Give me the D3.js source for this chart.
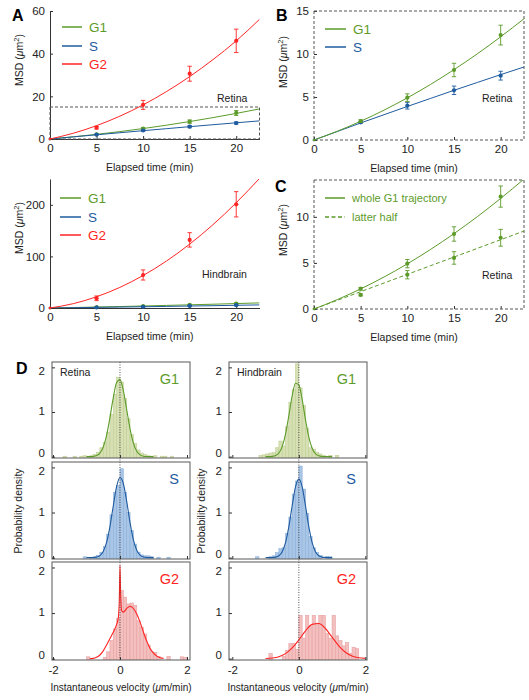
<!DOCTYPE html>
<html><head><meta charset="utf-8">
<script src="https://cdn.jsdelivr.net/npm/d3@7"></script>
<style>body{margin:0;background:#fff} svg{display:block} text{font-family:"Liberation Sans",Arial,Helvetica,sans-serif}</style>
</head><body><svg id="c" width="529" height="700"></svg>
<script>
// ---------- MSD data ----------
const msdTime = [0, 5, 10, 15, 20];
const fitTime = [0, 2.5, 5, 7.5, 10, 12.5, 15, 17.5, 20, 22.5];
const msdTicksX = [0, 5, 10, 15, 20];

const retinaG1 = [0, 2.2, 4.92, 8.14, 12.2];
const retinaG1Err = [0, 0.15, 0.45, 0.78, 1.15];
const retinaS = [0, 2.05, 3.99, 5.78, 7.48];
const retinaSErr = [0, 0.1, 0.39, 0.49, 0.51];
const retinaG2 = [0, 5.3, 16.0, 30.6, 46.0];
const retinaG2Err = [0, 0.6, 2.1, 3.5, 5.5];
const retinaG1Fit = [0, 1.02, 2.18, 3.47, 4.9, 6.47, 8.18, 10.02, 12.0, 14.1];
const retinaSFit = [0, 0.99, 1.98, 2.94, 3.9, 4.84, 5.78, 6.69, 7.6, 8.49];
const retinaG2Fit = [0, 2.7, 6.25, 10.7, 16, 22.2, 29.25, 37.2, 46, 56.1];

const latterHalf = [0, 1.53, 3.72, 5.54, 7.73];
const latterHalfErr = [0, 0.1, 0.45, 0.68, 0.91];
const latterHalfFit = [0, 0.94, 1.88, 2.82, 3.76, 4.7, 5.64, 6.58, 7.52, 8.46];

const hindG1 = [0, 1.5, 3.5, 6, 8.5];
const hindG1Err = [0, 0.4, 0.8, 1.2, 1.6];
const hindS = [0, 1, 2.2, 4, 5.5];
const hindSErr = [0, 0.3, 0.5, 0.7, 0.9];
const hindG2 = [0, 18.8, 64, 132, 201];
const hindG2Err = [0, 4.5, 9.8, 14, 24.5];
const hindG1Fit = [0, 0.9, 1.85, 2.85, 3.9, 5.0, 6.15, 7.35, 8.6, 9.9];
const hindSFit = [0, 0.6, 1.2, 1.8, 2.45, 3.1, 3.8, 4.5, 5.25, 6.0];
const hindG2Fit = [0, 8.4, 21.8, 39.9, 63, 90.9, 123.8, 161.4, 204, 251];

// ---------- Histogram data (bins of 0.1 from -2.0) ----------
const binStart = -2.0, binWidth = 0.1;
const velTicks = [-2, 0, 2];
const densTicks = [0, 1, 2];
const retinaG1Hist = [0,0,0,0.01,0,0,0.01,0,0.01,0.02, 0.01,0.02,0.05,0.1,0.2,0.32,0.55,0.95,1.4,1.78, 1.67,1.3,0.85,0.5,0.3,0.15,0.08,0.05,0.02,0.01, 0.02,0,0.01,0.01,0,0.01,0,0,0,0];
const retinaSHist = [0,0,0,0,0,0,0,0,0,0.02, 0,0.01,0.02,0.05,0.12,0.25,0.52,0.95,1.45,1.6, 1.97,1.45,1.0,0.6,0.3,0.12,0.06,0.04,0.04,0.02, 0,0.01,0,0,0.01,0,0,0,0,0];
const retinaG2Hist = [0,0,0,0,0,0,0,0,0,0, 0.04,0,0,0,0,0.03,0.15,0.4,0.65,0.88, 1.5,1.35,1.2,1.22,1.17,0.83,0.69,0.54,0.3,0.15, 0.14,0.05,0,0,0.05,0,0,0,0.04,0.03];
const hindG1Hist = [0,0,0,0,0,0,0,0,0.03,0.04, 0.06,0.08,0.09,0.2,0.35,0.24,0.67,1.22,1.5,2.08, 1.54,1.15,0.64,0.2,0.17,0.1,0.06,0.03,0,0.03, 0,0.03,0,0,0,0,0,0,0,0];
const hindSHist = [0,0,0,0,0,0,0,0.02,0,0, 0,0.02,0.04,0.11,0.2,0.22,0.54,0.9,1.41,1.7, 2.03,1.52,0.98,0.47,0.22,0.11,0.05,0,0.03,0.02, 0,0,0,0,0,0,0,0,0,0];
const hindG2Hist = [0,0,0,0,0,0,0,0,0,0, 0,0.11,0,0,0,0.05,0.18,0.33,0.33,0.2, 0.95,0.45,0.95,0.7,0.95,0.78,0.95,0.95,0.55,0.45, 0.95,0.5,0.4,0.28,0.35,0.12,0.25,0.22,0,0];

// fitted density curves
const gridA = [-1.0,-0.9,-0.8,-0.7,-0.6,-0.5,-0.4,-0.3,-0.2,-0.1,0,0.1,0.2,0.3,0.4,0.5,0.6,0.7,0.8,0.9,1.0];
const retinaG1Curve = [0.0002,0.001,0.006,0.025,0.081,0.215,0.477,0.874,1.324,1.66,1.725,1.48,1.056,0.621,0.302,0.122,0.041,0.011,0.003,0.0005,0.0001];
const retinaSCurve = [0.0001,0.0005,0.0027,0.0122,0.045,0.136,0.338,0.689,1.151,1.579,1.778,1.643,1.246,0.776,0.396,0.166,0.057,0.016,0.0038,0.0007,0.0001];
const hindG1Curve = [0.0001,0.001,0.006,0.024,0.082,0.226,0.506,0.921,1.364,1.643,1.609,1.282,0.831,0.438,0.188,0.065,0.018,0.004,0.001,0.0001,0];
const hindSCurve = [0.0001,0.0004,0.0023,0.011,0.042,0.132,0.333,0.687,1.151,1.57,1.74,1.57,1.151,0.687,0.333,0.132,0.042,0.011,0.0023,0.0004,0.0001];
const retinaG2CurveX = [-0.9,-0.8,-0.7,-0.6,-0.5,-0.4,-0.3,-0.2,-0.1,-0.05,-0.02,0,0.02,0.05,0.1,0.2,0.3,0.4,0.5,0.6,0.7,0.8,0.9,1.0,1.1,1.2,1.3];
const retinaG2Curve = [0,0.005,0.03,0.08,0.17,0.3,0.44,0.58,0.75,0.9,1.3,2.05,1.4,1.05,1.02,1.1,1.15,1.1,0.98,0.8,0.58,0.38,0.22,0.12,0.055,0.02,0.005];
const hindG2CurveX = [-1.0,-0.8,-0.6,-0.4,-0.2,0,0.2,0.4,0.6,0.8,1.0,1.2,1.4,1.6,1.8,2.0];
const hindG2Curve = [0.004,0.014,0.043,0.110,0.234,0.41,0.61,0.751,0.771,0.661,0.47,0.282,0.141,0.058,0.020,0.006];

// ---------- styles ----------
const cG1 = "#5c9b2a", cS = "#1f5b9f", cG2 = "#ff2424";
const histStyle = {
  G1: {fill: "#d7e0b4", stroke: "#bfcf93", line: cG1},
  S: {fill: "#a9c6e7", stroke: "#8db0da", line: cS},
  G2: {fill: "#f3bfbf", stroke: "#e8a2a2", line: cG2}
};
const svg = d3.select("#c");
let clipN = 0;
function addClip(x, y, w, h) {
  const id = "clip" + (clipN++);
  svg.append("clipPath").attr("id", id).append("rect").attr("x", x).attr("y", y).attr("width", w).attr("height", h);
  return "url(#" + id + ")";
}
function styleAxis(g, fs) {
  g.selectAll("text").attr("font-size", fs).attr("fill", "#222");
  g.selectAll("line").attr("stroke", "#333");
  g.select(".domain").attr("stroke", "#333");
}
const plainFmt = d => String(d);

// ---------- MSD panel ----------
function msdPanel(o) {
  const x = d3.scaleLinear().domain([0, 22.5]).range([o.left, o.right]);
  const y = d3.scaleLinear().domain([0, o.yMax]).range([o.bottom, o.top]);
  const g = svg.append("g");
  const gx = g.append("g").attr("transform", `translate(0,${o.bottom})`)
    .call(d3.axisBottom(x).tickValues(msdTicksX).tickFormat(plainFmt).tickSizeInner(-3).tickSizeOuter(0).tickPadding(5));
  const gy = g.append("g").attr("transform", `translate(${o.left},0)`)
    .call(d3.axisLeft(y).tickValues(o.yTicks).tickFormat(plainFmt).tickSizeInner(-3).tickSizeOuter(0).tickPadding(5));
  styleAxis(gx, 11.5); styleAxis(gy, 11.5);
  if (o.dashedFrame) {
    gx.select(".domain").remove(); gy.select(".domain").remove();
    g.append("rect").attr("x", o.left).attr("y", o.top).attr("width", o.right - o.left).attr("height", o.bottom - o.top)
      .attr("fill", "none").attr("stroke", "#555").attr("stroke-dasharray", "3,2");
  }
  if (o.zoomBox) {
    g.append("rect").attr("x", x(0)).attr("y", y(o.zoomBox)).attr("width", x(22.5) - x(0)).attr("height", y(0) - y(o.zoomBox))
      .attr("fill", "none").attr("stroke", "#555").attr("stroke-dasharray", "3,2");
  }
  const clip = addClip(o.left, o.top, o.right - o.left, o.bottom - o.top);
  const line = d3.line().x((d, i) => x(fitTime[i])).y(d => y(d)).curve(d3.curveMonotoneX);
  o.series.forEach(s => {
    g.append("path").attr("d", line(s.fit)).attr("fill", "none").attr("stroke", s.color)
      .attr("stroke-width", 1).attr("stroke-dasharray", s.dash || null).attr("clip-path", clip);
    const pts = g.append("g");
    s.mean.forEach((m, i) => {
      const e = s.err[i], cx = x(msdTime[i]);
      if (e > 0) {
        pts.append("line").attr("x1", cx).attr("x2", cx).attr("y1", y(m - e)).attr("y2", y(m + e)).attr("stroke", s.color).attr("stroke-width", 0.9);
        [m - e, m + e].forEach(v => pts.append("line").attr("x1", cx - 2.2).attr("x2", cx + 2.2).attr("y1", y(v)).attr("y2", y(v)).attr("stroke", s.color).attr("stroke-width", 0.9));
      }
      pts.append("circle").attr("cx", cx).attr("cy", y(m)).attr("r", i === 0 ? 1.3 : 2.1).attr("fill", s.color);
    });
  });
  // legend
  o.legend.forEach((l, i) => {
    const ly = o.legY[i];
    g.append("line").attr("x1", o.legX).attr("x2", o.legX + o.legLen).attr("y1", ly).attr("y2", ly)
      .attr("stroke", l.color).attr("stroke-width", 1.5).attr("stroke-dasharray", l.dash || null);
    g.append("text").attr("x", o.legX + o.legLen + 7).attr("y", ly + o.legFs * 0.36).attr("font-size", o.legFs)
      .attr("fill", l.color).text(l.name);
  });
  g.append("text").attr("x", o.tag[0]).attr("y", o.tag[1]).attr("font-size", 10.5).attr("fill", "#222").text(o.tagText);
  g.append("text").attr("x", (o.left + o.right) / 2 - 5).attr("y", o.bottom + 32).attr("text-anchor", "middle")
    .attr("font-size", 10.5).attr("fill", "#222").text("Elapsed time (min)");
  const yl = g.append("text").attr("transform", `translate(${o.left - 27},${o.ylabY}) rotate(-90)`)
    .attr("text-anchor", "middle").attr("font-size", 10.5).attr("fill", "#222");
  yl.append("tspan").text("MSD (");
  yl.append("tspan").attr("font-style", "italic").text("μ");
  yl.append("tspan").text("m");
  yl.append("tspan").attr("font-size", 7.5).attr("dy", -4).text("2");
  yl.append("tspan").attr("dy", 4).text(")");
  if (o.letterText) g.append("text").attr("x", o.letter[0]).attr("y", o.letter[1]).attr("font-size", 16).attr("font-weight", "bold")
    .attr("fill", "#000").text(o.letterText);
}

msdPanel({left: 50, right: 259.5, top: 11, bottom: 139, yMax: 60, yTicks: [0, 20, 40, 60], zoomBox: 15,
  series: [
    {color: cG1, mean: retinaG1, err: retinaG1Err, fit: retinaG1Fit},
    {color: cS, mean: retinaS, err: retinaSErr, fit: retinaSFit},
    {color: cG2, mean: retinaG2, err: retinaG2Err, fit: retinaG2Fit}],
  legend: [{name: "G1", color: cG1}, {name: "S", color: cS}, {name: "G2", color: cG2}],
  legX: 62, legLen: 20, legY: [27, 46, 64], legFs: 13.5,
  tag: [217, 102], tagText: "Retina", ylabY: 60, letter: [12, 21], letterText: "A"});

msdPanel({left: 50, right: 259.5, top: 179, bottom: 308, yMax: 250, yTicks: [0, 100, 200],
  series: [
    {color: cG1, mean: hindG1, err: hindG1Err, fit: hindG1Fit},
    {color: cS, mean: hindS, err: hindSErr, fit: hindSFit},
    {color: cG2, mean: hindG2, err: hindG2Err, fit: hindG2Fit}],
  legend: [{name: "G1", color: cG1}, {name: "S", color: cS}, {name: "G2", color: cG2}],
  legX: 60, legLen: 21, legY: [198, 217, 235], legFs: 13.5,
  tag: [202, 278], tagText: "Hindbrain", ylabY: 228, letter: [0, 0], letterText: ""});

msdPanel({left: 314, right: 524, top: 11, bottom: 140, yMax: 15, yTicks: [0, 5, 10, 15], dashedFrame: true,
  series: [
    {color: cS, mean: retinaS, err: retinaSErr, fit: retinaSFit},
    {color: cG1, mean: retinaG1, err: retinaG1Err, fit: retinaG1Fit}],
  legend: [{name: "G1", color: cG1}, {name: "S", color: cS}],
  legX: 325, legLen: 21, legY: [29, 47], legFs: 13.5,
  tag: [482, 102], tagText: "Retina", ylabY: 62, letter: [276, 21], letterText: "B"});

msdPanel({left: 314, right: 524, top: 180, bottom: 309, yMax: 14, yTicks: [0, 5, 10], dashedFrame: true,
  series: [
    {color: cG1, mean: latterHalf, err: latterHalfErr, fit: latterHalfFit, dash: "4,2.5"},
    {color: cG1, mean: retinaG1, err: retinaG1Err, fit: retinaG1Fit}],
  legend: [{name: "whole G1 trajectory", color: cG1}, {name: "latter half", color: cG1, dash: "4,2.5"}],
  legX: 325, legLen: 20, legY: [198, 217], legFs: 11,
  tag: [482, 279], tagText: "Retina", ylabY: 230, letter: [275, 192], letterText: "C"});

// ---------- Histogram panels ----------
const rows = [
  {key: "G1", top: 362, bottom: 458},
  {key: "S", top: 462, bottom: 559},
  {key: "G2", top: 562, bottom: 660}];
const cols = [
  {name: "Retina", left: 52, right: 190, xDomain: [-2.03, 2.09], ylabX: 22,
   hist: [retinaG1Hist, retinaSHist, retinaG2Hist],
   cx: [gridA, gridA, retinaG2CurveX], cy: [retinaG1Curve, retinaSCurve, retinaG2Curve]},
  {name: "Hindbrain", left: 229, right: 367, xDomain: [-2.1, 2.05], ylabX: 205,
   hist: [hindG1Hist, hindSHist, hindG2Hist],
   cx: [gridA, gridA, hindG2CurveX], cy: [hindG1Curve, hindSCurve, hindG2Curve]}];
// the reference nudges the end labels inside the frame
const labelNudge = {0: -4, 1: -1, 2: 3};

cols.forEach(col => {
  const x = d3.scaleLinear().domain(col.xDomain).range([col.left, col.right]);
  rows.forEach((r, ri) => {
    const st = histStyle[r.key];
    const y = d3.scaleLinear().domain([-0.03, 2.12]).range([r.bottom, r.top]);
    const g = svg.append("g");
    const clip = addClip(col.left, r.top, col.right - col.left, r.bottom - r.top);
    const bars = g.append("g").attr("clip-path", clip);
    col.hist[ri].forEach((h, i) => {
      if (h <= 0) return;
      const x0 = binStart + i * binWidth;
      bars.append("rect").attr("x", x(x0)).attr("width", x(x0 + binWidth) - x(x0))
        .attr("y", y(h)).attr("height", y(0) - y(h) + 3)
        .attr("fill", st.fill).attr("stroke", st.stroke).attr("stroke-width", 0.6);
    });
    const line = d3.line().x((d, i) => x(col.cx[ri][i])).y(d => y(d)).curve(d3.curveMonotoneX);
    g.append("path").attr("d", line(col.cy[ri])).attr("fill", "none").attr("stroke", st.line)
      .attr("stroke-width", 1.1).attr("clip-path", clip);
    g.append("rect").attr("x", col.left).attr("y", r.top).attr("width", col.right - col.left).attr("height", r.bottom - r.top)
      .attr("fill", "none").attr("stroke", "#666").attr("stroke-width", 1.1);
    const gy = g.append("g").attr("transform", `translate(${col.left},0)`)
      .call(d3.axisLeft(y).tickValues(densTicks).tickFormat(plainFmt).tickSizeInner(-3).tickSizeOuter(0).tickPadding(7));
    gy.select(".domain").remove(); styleAxis(gy, 11.5);
    gy.selectAll(".tick text").attr("y", d => labelNudge[d]);
    const gx = g.append("g").attr("transform", `translate(0,${r.bottom})`)
      .call(d3.axisBottom(x).tickValues(velTicks).tickFormat(plainFmt).tickSizeInner(-3).tickSizeOuter(0).tickPadding(6));
    gx.select(".domain").remove(); styleAxis(gx, 11.5);
    if (ri < 2) gx.selectAll("text").remove();
    g.append("text").attr("x", col.right - 11).attr("y", r.top + 22).attr("text-anchor", "end")
      .attr("font-size", 14.5).attr("fill", st.line).text(r.key);
    if (ri === 0) g.append("text").attr("x", col.left + 8).attr("y", r.top + 14).attr("font-size", 10.5)
      .attr("fill", "#222").text(col.name);
  });
  // dotted zero line across rows
  svg.append("line").attr("x1", x(0)).attr("x2", x(0)).attr("y1", rows[0].top).attr("y2", rows[2].bottom)
    .attr("stroke", "#444").attr("stroke-width", 0.9).attr("stroke-dasharray", "1,1.5");
  svg.append("text").attr("transform", `translate(${col.ylabX},511) rotate(-90)`).attr("text-anchor", "middle")
    .attr("font-size", 10.5).attr("fill", "#222").text("Probability density");
  const xl = svg.append("text").attr("x", (col.left + col.right) / 2).attr("y", 691).attr("text-anchor", "middle")
    .attr("font-size", 10).attr("fill", "#222");
  xl.append("tspan").text("Instantaneous velocity (");
  xl.append("tspan").attr("font-style", "italic").text("μ");
  xl.append("tspan").text("m/min)");
});
svg.append("text").attr("x", 16).attr("y", 374).attr("font-size", 16).attr("font-weight", "bold").attr("fill", "#000").text("D");
</script></body></html>
